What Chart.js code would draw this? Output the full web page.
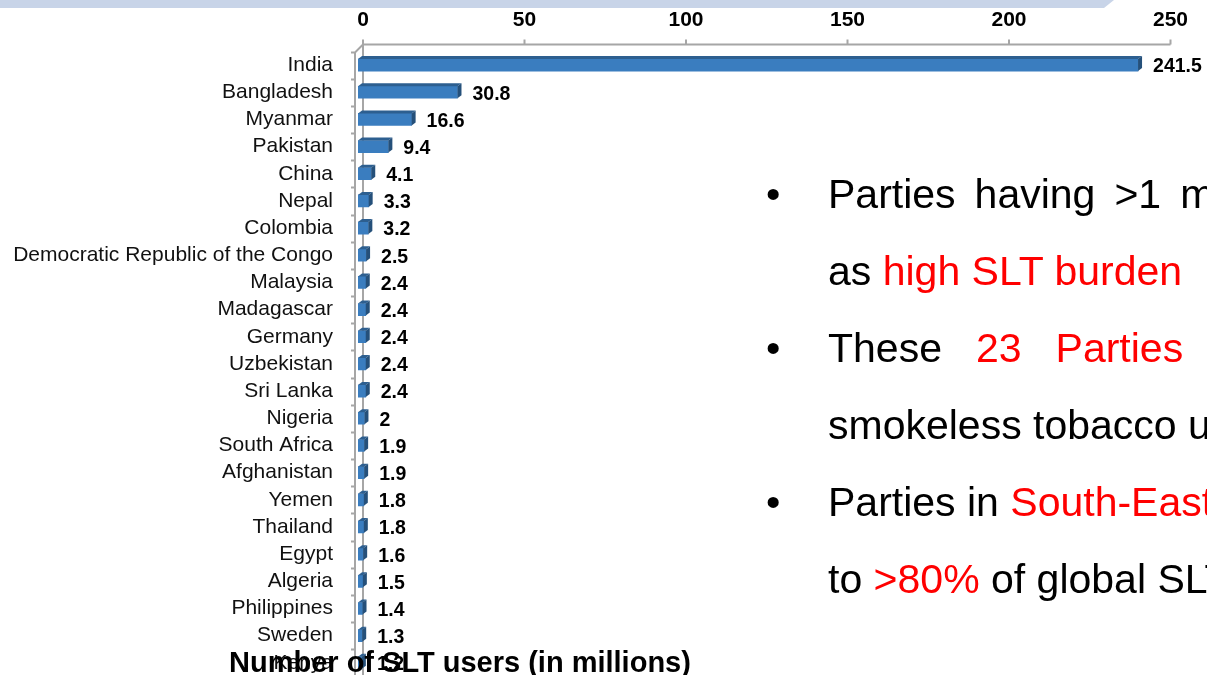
<!DOCTYPE html>
<html>
<head>
<meta charset="utf-8">
<script src="https://cdn.jsdelivr.net/npm/chart.js@4/dist/chart.umd.min.js"></script>
<style>
    html, body { margin: 0; padding: 0; background: #fff; }
    body { width: 1207px; height: 675px; overflow: hidden; position: relative; font-family: "Liberation Sans", Arial, sans-serif; }
    #band { position: absolute; left: 0; top: 0; width: 1114px; height: 8px; background: #c8d4e8;
            clip-path: polygon(0 0, 100% 0, calc(100% - 10px) 100%, 0 100%); }
    #chartWrap { position: absolute; left: 0; top: 0; }
    #axisTitle { position: absolute; left: 229px; top: 646px; font-weight: bold; font-size: 29px; color: #000; white-space: nowrap; }
    .line { position: absolute; left: 828px; font-size: 41px; line-height: 41px; color: #000; white-space: nowrap; }
    .bullet { position: absolute; left: 766px; font-size: 41px; line-height: 41px; color: #000; }
    .red { color: #ff0000; }
</style>
</head>
<body>
<div id="band"></div>
<div id="chartWrap"><canvas id="sltChart" width="1207" height="714"></canvas></div>
<div id="axisTitle">Number of SLT users (in millions)</div>

<div class="bullet" style="top:174px">•</div>
<div class="line" style="top:174px; word-spacing:7.6px">Parties having &gt;1 million</div>
<div class="line" style="top:251px">as <span class="red">high SLT burden</span></div>
<div class="bullet" style="top:328px">•</div>
<div class="line" style="top:328px; word-spacing:22.6px">These <span class="red">23 Parties</span></div>
<div class="line" style="top:405px">smokeless tobacco users</div>
<div class="bullet" style="top:482px">•</div>
<div class="line" style="top:482px">Parties in <span class="red">South-East</span></div>
<div class="line" style="top:559px">to <span class="red">&gt;80%</span> of global SLT</div>

<script>
document.addEventListener('DOMContentLoaded', function () {
    const countries = [
        'India', 'Bangladesh', 'Myanmar', 'Pakistan', 'China', 'Nepal', 'Colombia',
        'Democratic Republic of the Congo', 'Malaysia', 'Madagascar', 'Germany',
        'Uzbekistan', 'Sri Lanka', 'Nigeria', 'South Africa', 'Afghanistan', 'Yemen',
        'Thailand', 'Egypt', 'Algeria', 'Philippines', 'Sweden', 'Kenya'
    ];
    const sltUsers = [
        241.5, 30.8, 16.6, 9.4, 4.1, 3.3, 3.2, 2.5, 2.4, 2.4, 2.4,
        2.4, 2.4, 2, 1.9, 1.9, 1.8, 1.8, 1.6, 1.5, 1.4, 1.3, 1.2
    ];
    const AXIS_MIN = 0;
    const AXIS_MAX = 250;
    const AXIS_STEP = 50;

    const FONT = '"Liberation Sans", Arial, sans-serif';
    const WALL_DX = 5;     // back wall offset to the right
    const WALL_DY = 7;     // back wall offset upwards
    const BAR_DEPTH = 4;   // bar extrusion

    // back wall, top axis line and the category ticks on the front edge
    const wallPlugin = {
        id: 'wall',
        beforeDatasetsDraw(chart) {
            const { ctx, chartArea } = chart;
            const xs = chart.scales.x;
            const n = countries.length;
            const step = (chartArea.bottom - chartArea.top) / n;
            const backTop = chartArea.top - WALL_DY;
            const backLeft = chartArea.left + WALL_DX;
            const frontX = chartArea.left - 3;
            ctx.save();
            ctx.strokeStyle = '#a6a6a6';
            ctx.lineWidth = 2;
            ctx.beginPath();
            ctx.moveTo(backLeft, backTop);
            ctx.lineTo(xs.getPixelForValue(AXIS_MAX) + WALL_DX, backTop);
            ctx.moveTo(backLeft, backTop);
            ctx.lineTo(backLeft, chartArea.bottom);
            ctx.moveTo(frontX - 4, chartArea.top + 1);
            ctx.lineTo(frontX, chartArea.top + 1);
            ctx.lineTo(backLeft, backTop);
            ctx.moveTo(frontX, chartArea.top + 1);
            ctx.lineTo(frontX, chartArea.bottom);
            for (let i = 1; i <= n; i++) {
                const y = Math.round(chartArea.top + i * step) + 0.5;
                ctx.moveTo(frontX - 4, y);
                ctx.lineTo(frontX, y);
            }
            for (let v = AXIS_MIN; v <= AXIS_MAX; v += AXIS_STEP) {
                const x = xs.getPixelForValue(v) + WALL_DX;
                ctx.moveTo(x, backTop);
                ctx.lineTo(x, backTop - 5);
            }
            ctx.stroke();
            ctx.restore();
        },
        afterDatasetsDraw(chart) {
            const { ctx } = chart;
            const meta = chart.getDatasetMeta(0);
            ctx.save();
            meta.data.forEach((bar, i) => {
                const { x, y, base, height } = bar.getProps(['x', 'y', 'base', 'height'], true);
                const top = y - height / 2;
                const bottom = y + height / 2;
                const d = BAR_DEPTH;
                const dy = 3;
                // top face
                ctx.fillStyle = '#2d5f90';
                ctx.beginPath();
                ctx.moveTo(base, top);
                ctx.lineTo(base + d, top - dy);
                ctx.lineTo(x + d, top - dy);
                ctx.lineTo(x, top);
                ctx.closePath();
                ctx.fill();
                // side face
                ctx.fillStyle = '#25507a';
                ctx.beginPath();
                ctx.moveTo(x, top);
                ctx.lineTo(x + d, top - dy);
                ctx.lineTo(x + d, bottom - dy);
                ctx.lineTo(x, bottom);
                ctx.closePath();
                ctx.fill();
                // value label
                ctx.fillStyle = '#000';
                ctx.font = 'bold 19.5px ' + FONT;
                ctx.textAlign = 'left';
                ctx.textBaseline = 'middle';
                ctx.fillText(String(sltUsers[i]), x + 15, y + 2);
            });
            ctx.restore();
        }
    };

    new Chart(document.getElementById('sltChart').getContext('2d'), {
        type: 'bar',
        data: {
            labels: countries,
            datasets: [{
                data: sltUsers,
                backgroundColor: '#3a7dbf',
                borderWidth: 0,
                barThickness: 12,
            }],
        },
        options: {
            indexAxis: 'y',
            responsive: false,
            animation: false,
            layout: { padding: { left: 0, top: 0, right: 41.5, bottom: 0 } },
            plugins: {
                legend: { display: false },
                tooltip: { enabled: false },
            },
            scales: {
                x: {
                    position: 'top',
                    min: AXIS_MIN,
                    max: AXIS_MAX,
                    grid: { display: false, drawTicks: false, tickLength: 0 },
                    border: { display: false },
                    ticks: {
                        stepSize: AXIS_STEP,
                        color: '#000',
                        font: { family: FONT, size: 21, weight: 'bold' },
                        padding: 19,
                        labelOffset: WALL_DX,
                        maxRotation: 0,
                    },
                    afterFit(scale) { scale.height = 51.5; },
                },
                y: {
                    grid: { display: false, drawTicks: false, tickLength: 0 },
                    border: { display: false },
                    ticks: {
                        color: '#111',
                        font: { family: FONT, size: 21 },
                        padding: 25,
                        autoSkip: false,
                    },
                    afterFit(scale) { scale.width = 358; },
                },
            },
        },
        plugins: [wallPlugin],
    });
});
</script>
</body>
</html>
